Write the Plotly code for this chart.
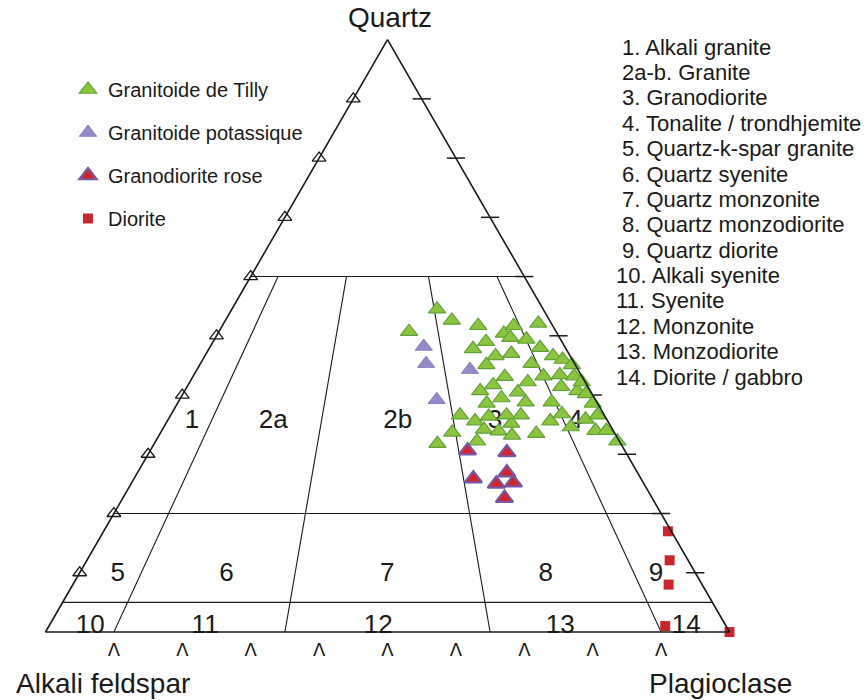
import plotly.graph_objects as go

FONT = "Liberation Sans, Arial, sans-serif"
INK = "#1a1a1a"

# ---------------- data (percent Quartz / Alkali feldspar / Plagioclase) ----------------
tilly_Q = [54.5, 52.6, 50.7, 51.7, 50.4, 51.7, 52.1, 49.7, 49.4, 47.8, 49.0, 46.6, 47.0, 48.0,
           46.6, 46.0, 45.1, 45.1, 43.1, 45.3, 43.2, 43.4, 43.2, 42.2, 40.7, 41.7, 40.5, 41.4,
           40.7, 40.2, 42.2, 38.6, 39.5, 38.8, 38.8, 38.6, 36.6, 35.6, 36.4, 35.2, 36.6, 36.6,
           35.6, 36.8, 35.9, 36.6, 33.7, 34.2, 33.9, 33.2, 33.5, 34.6, 34.0, 34.0, 31.8, 32.2, 32.2]
tilly_A = [15.5, 14.3, 21.5, 10.9, 7.8, 5.7, 1.9, 7.2, 5.0, 13.6, 11.1, 10.9, 8.4, 3.7,
           2.5, 1.4, 0.5, 13.0, 11.3, 6.3, 5.6, 3.1, 1.1, 8.4, 16.1, 13.7, 10.7, 3.9,
           1.9, 0.9, 0.5, 16.2, 13.6, 10.4, 6.6, 0.7, 21.1, 19.4, 17.0, 14.3, 12.2, 14.3,
           8.4, 6.1, 3.1, 1.0, 23.7, 18.8, 16.8, 15.2, 11.5, 5.9, 2.6, 1.0, 26.8, 20.8, 0.3]
tilly_P = [30.0, 33.1, 27.8, 37.4, 41.8, 42.6, 46.0, 43.1, 45.6, 38.6, 39.9, 42.5, 44.6, 48.3,
           50.9, 52.6, 54.4, 41.9, 45.6, 48.4, 51.2, 53.5, 55.7, 49.4, 43.2, 44.6, 48.8, 54.7,
           57.4, 58.9, 57.3, 45.2, 46.9, 50.8, 54.6, 60.7, 42.3, 45.0, 46.6, 50.5, 51.2, 49.1,
           56.0, 57.1, 61.0, 62.4, 42.6, 47.0, 49.3, 51.6, 55.0, 59.5, 63.4, 65.0, 41.4, 47.0, 67.5]

potas_Q = [48.2, 45.3, 44.3, 39.2]
potas_A = [20.6, 21.7, 15.8, 23.2]
potas_P = [31.2, 33.0, 39.9, 37.6]

rose_Q = [30.6, 30.3, 25.9, 26.9, 25.0, 25.2, 22.6]
rose_A = [23.0, 17.4, 24.5, 19.1, 21.6, 19.0, 21.6]
rose_P = [46.4, 52.3, 49.6, 54.0, 53.4, 55.8, 55.8]

dior_Q = [17.0, 12.1, 8.0, 1.0, 0.0]
dior_A = [0.5, 2.7, 4.9, 8.9, 0.0]
dior_P = [82.5, 85.2, 87.1, 90.1, 100.0]

# QAP field boundaries
Q_LEVELS = [60, 20, 5]
PLAG_RATIOS = [10, 35, 65, 90]
RATIO_TOP_Q = 60
TICKS = [10, 20, 30, 40, 50, 60, 70, 80, 90]

# field labels (position in Q/A/P percent)
field_text = ["1", "2a", "2b", "3", "4", "5", "6", "7", "8", "9", "10", "11", "12", "13", "14"]
field_Q = [35.6, 35.6, 35.6, 35.6, 35.6, 9.7, 9.7, 9.7, 9.7, 9.7, 0.85, 0.85, 0.85, 0.85, 0.85]
field_A = [60.8, 48.9, 30.7, 16.5, 4.7, 84.6, 68.7, 45.2, 22.0, 5.9, 93.0, 76.2, 50.9, 24.3, 5.9]
field_P = [3.6, 15.5, 33.7, 47.9, 59.7, 5.7, 21.6, 45.1, 68.3, 84.4, 6.1, 22.9, 48.2, 74.8, 93.3]

field_names = ["1. Alkali granite", "2a-b. Granite", "3. Granodiorite", "4. Tonalite / trondhjemite",
               "5. Quartz-k-spar granite", "6. Quartz syenite", "7. Quartz monzonite",
               "8. Quartz monzodiorite", "9. Quartz diorite", "10. Alkali syenite", "11. Syenite",
               "12. Monzonite", "13. Monzodiorite", "14. Diorite / gabbro"]

# ---------------- figure ----------------
fig = go.Figure()

line_style = dict(color=INK, width=1.1)
for q in Q_LEVELS:
    fig.add_trace(go.Scatterternary(a=[q, q], b=[100 - q, 0], c=[0, 100 - q], mode="lines",
                                    line=line_style, showlegend=False, hoverinfo="skip"))
for r in PLAG_RATIOS:
    qs = [RATIO_TOP_Q, 0]
    cs = [(100 - q) * r / 100 for q in qs]
    bs = [(100 - q) - c for q, c in zip(qs, cs)]
    fig.add_trace(go.Scatterternary(a=qs, b=bs, c=cs, mode="lines",
                                    line=line_style, showlegend=False, hoverinfo="skip"))

# edge tick glyphs
fig.add_trace(go.Scatterternary(a=TICKS, b=[100 - t for t in TICKS], c=[0] * len(TICKS),
                                mode="markers", cliponaxis=False, showlegend=False, hoverinfo="skip",
                                marker=dict(symbol="triangle-up-open", size=12, color=INK,
                                            line=dict(width=1.3, color=INK))))
fig.add_trace(go.Scatterternary(a=TICKS, b=[0] * len(TICKS), c=[100 - t for t in TICKS],
                                mode="markers", cliponaxis=False, showlegend=False, hoverinfo="skip",
                                marker=dict(symbol="line-ew", size=13, color=INK,
                                            line=dict(width=1.5, color=INK))))
fig.add_trace(go.Scatterternary(a=[0] * len(TICKS), b=[100 - t for t in TICKS], c=TICKS,
                                mode="markers+text", text=["Λ"] * len(TICKS), textposition="bottom center",
                                textfont=dict(size=18, family="DejaVu Sans, sans-serif", color=INK),
                                marker=dict(size=16, opacity=0),
                                cliponaxis=False, showlegend=False, hoverinfo="skip"))

# field numbers
fig.add_trace(go.Scatterternary(a=field_Q, b=field_A, c=field_P, mode="text", text=field_text,
                                textposition="middle center", cliponaxis=False,
                                textfont=dict(size=26, family=FONT, color=INK),
                                showlegend=False, hoverinfo="skip"))

# samples
def add_group(name, Q, A, P, marker):
    fig.add_trace(go.Scatterternary(a=Q, b=A, c=P, mode="markers", name=name, legendgroup=name,
                                    cliponaxis=False, marker=marker))

add_group("Granitoide de Tilly", tilly_Q, tilly_A, tilly_P,
          dict(symbol="triangle-up", size=15, color="#8cc43f", line=dict(color="#62a13a", width=1.2)))
add_group("Granitoide potassique", potas_Q, potas_A, potas_P,
          dict(symbol="triangle-up", size=15, color="#958ac6", line=dict(color="#8a80be", width=1)))
add_group("Granodiorite rose", rose_Q, rose_A, rose_P,
          dict(symbol="triangle-up", size=15, color="#d4242b", line=dict(color="#7657a3", width=2.2)))
add_group("Diorite", dior_Q, dior_A, dior_P,
          dict(symbol="square", size=10, color="#c8272d", line=dict(color="#c8272d", width=0)))

W, H = 866, 700
axis_common = dict(showticklabels=False, ticks="", showgrid=False, linecolor=INK, linewidth=1.6,
                   title=dict(text=""), min=0)

annotations = [
    dict(text="Quartz", x=390 / W, y=1 - 18 / H, xref="paper", yref="paper", showarrow=False,
         xanchor="center", yanchor="middle", font=dict(size=28, family=FONT, color=INK)),
    dict(text="Alkali feldspar", x=103 / W, y=1 - 683 / H, xref="paper", yref="paper", showarrow=False,
         xanchor="center", yanchor="middle", font=dict(size=28, family=FONT, color=INK)),
    dict(text="Plagioclase", x=720 / W, y=1 - 683 / H, xref="paper", yref="paper", showarrow=False,
         xanchor="center", yanchor="middle", font=dict(size=28, family=FONT, color=INK)),
]
for i, nm in enumerate(field_names):
    x0 = 620 if i < 9 else 614
    annotations.append(dict(text=nm, x=x0 / W, y=1 - (47 + 25.4 * i) / H, xref="paper", yref="paper",
                            showarrow=False, xanchor="left", yanchor="middle",
                            font=dict(size=22, family=FONT, color=INK)))

fig.update_layout(
    width=W, height=H,
    margin=dict(l=0, r=0, t=0, b=0),
    paper_bgcolor="white",
    font=dict(family=FONT, color=INK),
    ternary=dict(
        sum=100,
        bgcolor="white",
        domain=dict(x=[45.5 / W, 729.5 / W], y=[1 - 632 / H, 1 - 39.6 / H]),
        aaxis=axis_common, baxis=axis_common, caxis=axis_common,
    ),
    legend=dict(x=68 / W, y=1 - 70 / H, xanchor="left", yanchor="top",
                font=dict(size=20, family=FONT, color=INK), tracegroupgap=14,
                traceorder="grouped", bgcolor="rgba(0,0,0,0)"),
    annotations=annotations,
)

fig.write_html("out.html")
